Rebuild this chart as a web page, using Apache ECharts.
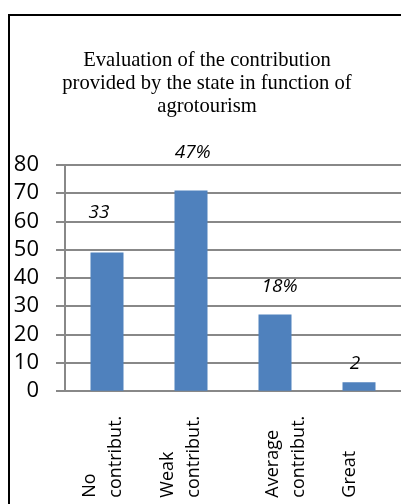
<!DOCTYPE html>
<html>
<head>
<meta charset="utf-8">
<script src="https://cdn.jsdelivr.net/npm/echarts@6.0.0/dist/echarts.min.js"></script>
<style>
  html, body { margin: 0; padding: 0; background: #fff; }
  #chart { width: 401px; height: 504px; }
</style>
</head>
<body>
<div id="chart"></div>
<script>
// Survey answers: how much the state contributes to agrotourism
const categories = ['No\ncontribut.', 'Weak\ncontribut.', 'Average\ncontribut.', 'Great'];
const respondents = [49, 71, 27, 3];
const shareLabels = ['33', '47%', '18%', '2'];
const yMin = 0;
const yMax = 80;
const yStep = 10;

// Layout tweaks for the value labels and the wrapped category names
const labelOffsets = [[-8, -40], [1.7, -38], [4.5, -28], [-4, -18.5]];
const categoryPadding = [[0, 0, 9, 0], [0, 0, 20, 0], [22, 0, 0, 0], [0, 0, 18, 0]];

const gridGray = '#888888';
const barBlue = '#4F81BD';
const sansFont = '"Open Sans", sans-serif';

const chart = echarts.init(document.getElementById('chart'), null, { renderer: 'canvas' });

chart.setOption({
  animation: false,
  backgroundColor: '#ffffff',
  title: {
    text: 'Evaluation of the contribution\nprovided by the state in function of\nagrotourism',
    left: 202,
    textAlign: 'center',
    top: 44,
    textStyle: {
      fontFamily: '"Liberation Serif", "Times New Roman", serif',
      fontSize: 20.6,
      fontWeight: 'normal',
      lineHeight: 23,
      color: '#000'
    }
  },
  graphic: [{
    type: 'rect',
    shape: { x: 9, y: 15, width: 420, height: 520 },
    style: { fill: 'none', stroke: '#000', lineWidth: 2 },
    silent: true,
    z: 100
  }],
  grid: {
    left: 65,
    right: 0,
    top: 165,
    bottom: 113.3,
    containLabel: false,
    outerBoundsMode: 'none'
  },
  xAxis: {
    type: 'category',
    data: categories.map((name, i) => ({ value: name, textStyle: { padding: categoryPadding[i] } })),
    axisLine: { show: true, lineStyle: { color: gridGray, width: 2 } },
    axisTick: { show: false },
    axisLabel: {
      interval: 0,
      rotate: 90,
      margin: 21,
      formatter: v => v.split('\n').map(s => '{ln|' + s + '}').join('\n'),
      rich: {
        ln: {
          width: 86,
          align: 'left',
          fontFamily: sansFont,
          fontSize: 18,
          lineHeight: 26,
          color: '#000'
        }
      },
      fontFamily: sansFont,
      fontSize: 18,
      lineHeight: 26,
      color: '#000'
    },
    splitLine: { show: false }
  },
  yAxis: {
    type: 'value',
    min: yMin,
    max: yMax,
    interval: yStep,
    axisLine: { show: true, lineStyle: { color: gridGray, width: 2 } },
    axisTick: { show: true, length: 9, lineStyle: { color: gridGray, width: 2 } },
    axisLabel: {
      margin: 26,
      fontFamily: sansFont,
      fontSize: 22,
      color: '#000'
    },
    splitLine: { show: true, lineStyle: { color: gridGray, width: 2 } }
  },
  series: [{
    type: 'bar',
    barWidth: 33,
    itemStyle: { color: barBlue },
    data: respondents.map((v, i) => ({ value: v, label: { offset: labelOffsets[i] } })),
    label: {
      show: true,
      position: 'top',
      distance: 0,
      verticalAlign: 'middle',
      formatter: p => shareLabels[p.dataIndex],
      fontFamily: sansFont,
      fontStyle: 'italic',
      fontSize: 19,
      color: '#000'
    }
  }]
});
</script>
</body>
</html>
